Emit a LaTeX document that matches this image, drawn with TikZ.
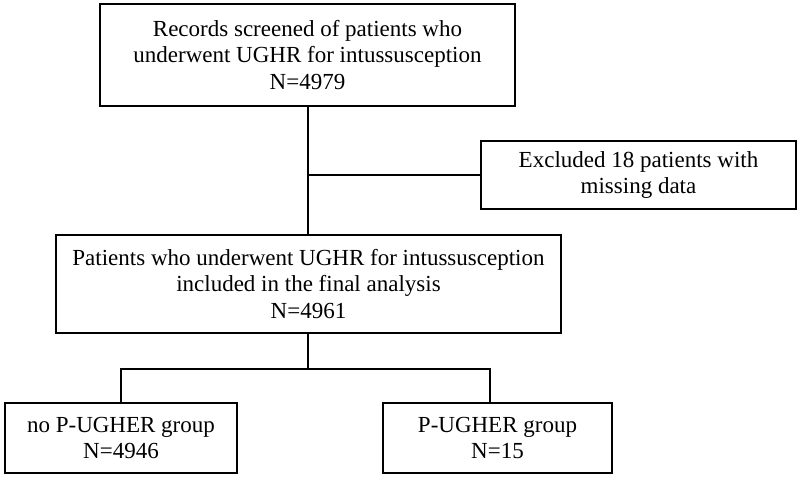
\documentclass[tikz,border=0pt]{standalone}
\usepackage{fontspec}
\setmainfont{Liberation Serif}
\usepackage{tikz}
\usetikzlibrary{positioning}

\begin{document}
\begin{tikzpicture}[x=1pt,y=1pt,box/.style={draw,line width=2pt,align=center,inner sep=0pt,font=\fontsize{23}{26.5}\selectfont},link/.style={line width=2pt}]
			\useasboundingbox (0,0) rectangle (800,477);
			\node[box,minimum width=415,minimum height=102] (screen) at (307.5,422) {Records screened of patients who\\underwent UGHR for intussusception\\N=4979};
			\node[box,minimum width=315,minimum height=68] (excl) at (638.5,302) {Excluded 18 patients with\\missing data};
			\node[box,minimum width=505,minimum height=98] (incl) at (308.5,193) {Patients who underwent UGHR for intussusception\\included in the final analysis\\N=4961};
			\node[box,minimum width=232,minimum height=70] (nogrp) at (121,39) {no P-UGHER group\\N=4946};
			\node[box,minimum width=229,minimum height=70] (grp) at (497.5,39) {P-UGHER group\\N=15};
			\coordinate (split) at ([xshift=-1pt]incl.south |- 0,108);
			\draw[link] (screen.south) -- (screen.south |- incl.north);
			\draw[link] (screen.south |- excl.west) -- (excl.west);
			\draw[link] ([xshift=-1pt]incl.south) -- (split);
			\draw[link] (split) -| (nogrp.north);
			\draw[link] (split) -| ([xshift=-7.5pt]grp.north);
		\end{tikzpicture}
\end{document}
